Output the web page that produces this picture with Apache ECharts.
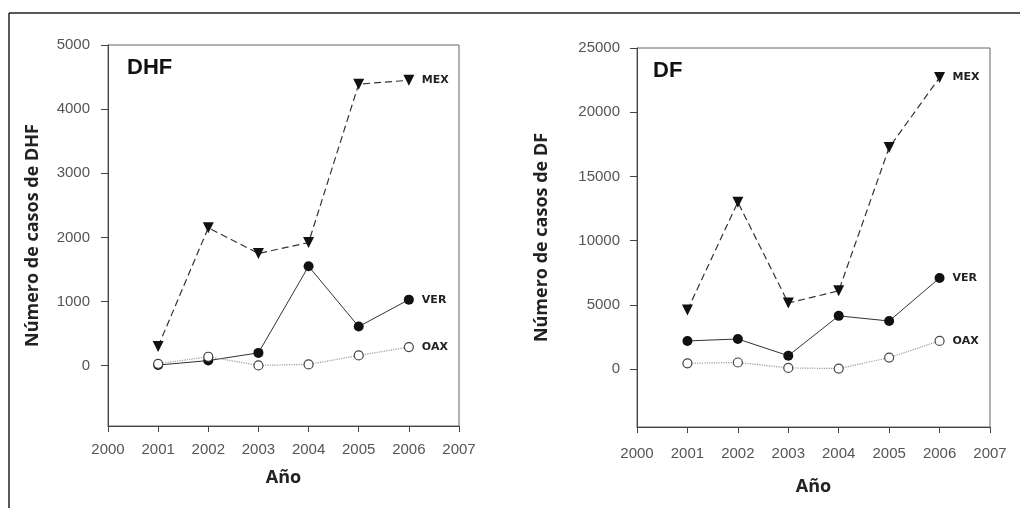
<!DOCTYPE html>
<html>
<head>
<meta charset="utf-8">
<script src="https://cdn.jsdelivr.net/npm/echarts@6/dist/echarts.min.js"></script>
<style>
  html, body { margin: 0; padding: 0; background: #fff; }
  #chart { width: 1020px; height: 508px; }
</style>
</head>
<body>
<div id="chart"></div>
<script>
// ---- data ----
const years = [2001, 2002, 2003, 2004, 2005, 2006];
const yearTicks = [2000, 2001, 2002, 2003, 2004, 2005, 2006, 2007];
const dhfTicks = [0, 1000, 2000, 3000, 4000, 5000];
const dfTicks = [0, 5000, 10000, 15000, 20000, 25000];
const dhfMEX = [300, 2150, 1750, 1920, 4390, 4450];
const dhfVER = [10, 80, 200, 1550, 610, 1030];
const dhfOAX = [30, 140, 5, 20, 160, 290];
const dfMEX = [4600, 13000, 5150, 6100, 17250, 22700];
const dfVER = [2200, 2350, 1050, 4150, 3750, 7100];
const dfOAX = [460, 520, 100, 50, 900, 2200];
const panelTitles = ['DHF', 'DF'];
const yNames = ['Número de casos de DHF', 'Número de casos de DF'];
const xName = 'Año';

const pairs = (ys) => years.map((y, i) => [y, ys[i]]);

const tickFont = { fontFamily: 'Liberation Sans', fontSize: 15, color: '#555' };
const nameFont = { fontFamily: 'Open Sans', fontWeight: 'bold', fontSize: 18, color: '#222' };

function xAxis(gridIndex, margin, gap) {
  return {
    type: 'value', gridIndex, min: 2000, max: 2007, interval: 1,
    name: xName, nameLocation: 'middle', nameGap: gap, nameTextStyle: nameFont,
    axisLine: { show: true, onZero: false, lineStyle: { color: '#444', width: 1 } },
    axisTick: { show: true, length: 6, lineStyle: { color: '#444' }, customValues: yearTicks },
    axisLabel: { ...tickFont, margin, formatter: v => String(v), customValues: yearTicks },
    splitLine: { show: false }
  };
}
function yAxis(gridIndex, min, max, ticks, margin, gap) {
  return {
    type: 'value', gridIndex, min, max,
    name: yNames[gridIndex], nameLocation: 'middle', nameGap: gap, nameTextStyle: nameFont,
    axisLine: { show: true, onZero: false, lineStyle: { color: '#444', width: 1 } },
    axisTick: { show: true, length: 7, lineStyle: { color: '#444' }, customValues: ticks },
    axisLabel: { ...tickFont, margin, formatter: v => String(v), customValues: ticks },
    splitLine: { show: false }
  };
}
const endLbl = (txt) => ({
  show: true, formatter: txt, distance: 13,
  fontFamily: 'DejaVu Sans', fontWeight: 'bold', fontSize: 11, color: '#222'
});
function seriesFor(gi, mex, ver, oax) {
  return [
    { name: 'MEX', type: 'line', xAxisIndex: gi, yAxisIndex: gi, data: pairs(mex),
      symbol: 'triangle', symbolRotate: 180, symbolSize: 11,
      itemStyle: { color: '#111' },
      lineStyle: { color: '#333', width: 1.2, type: [7, 4] },
      endLabel: endLbl('MEX'), silent: true, animation: false },
    { name: 'VER', type: 'line', xAxisIndex: gi, yAxisIndex: gi, data: pairs(ver),
      symbol: 'circle', symbolSize: 10,
      itemStyle: { color: '#111' },
      lineStyle: { color: '#333', width: 1 },
      endLabel: endLbl('VER'), silent: true, animation: false },
    { name: 'OAX', type: 'line', xAxisIndex: gi, yAxisIndex: gi, data: pairs(oax),
      symbol: 'circle', symbolSize: 9, showAllSymbol: true,
      itemStyle: { color: '#fff', borderColor: '#444', borderWidth: 1.2 },
      lineStyle: { color: '#999', width: 1.2, type: 'dotted' },
      endLabel: endLbl('OAX'), silent: true, animation: false }
  ];
}

const chart = echarts.init(document.getElementById('chart'), null, { renderer: 'canvas' });
chart.setOption({
  backgroundColor: '#fff',
  animation: false,
  title: [
    { text: panelTitles[0], left: 122, top: 52, textStyle: { fontFamily: 'Liberation Sans', fontWeight: 'bold', fontSize: 22, color: '#111' } },
    { text: panelTitles[1], left: 648, top: 55, textStyle: { fontFamily: 'Liberation Sans', fontWeight: 'bold', fontSize: 22, color: '#111' } }
  ],
  grid: [
    { left: 108, top: 45, width: 351, height: 381, show: true, borderColor: '#666', borderWidth: 1, containLabel: false, outerBoundsMode: 'none' },
    { left: 637, top: 48, width: 353, height: 379, show: true, borderColor: '#666', borderWidth: 1, containLabel: false, outerBoundsMode: 'none' }
  ],
  xAxis: [xAxis(0, 16, 43), xAxis(1, 19, 51)],
  yAxis: [yAxis(0, -940, 5000, dhfTicks, 18, 66), yAxis(1, -4500, 25000, dfTicks, 17, 86)],
  series: [...seriesFor(0, dhfMEX, dhfVER, dhfOAX), ...seriesFor(1, dfMEX, dfVER, dfOAX)],
  graphic: [
    { type: 'line', shape: { x1: 9, y1: 13, x2: 1020, y2: 13 }, style: { stroke: '#222', lineWidth: 1.5 }, silent: true },
    { type: 'line', shape: { x1: 9, y1: 13, x2: 9, y2: 508 }, style: { stroke: '#222', lineWidth: 1.5 }, silent: true }
  ]
});
</script>
</body>
</html>
